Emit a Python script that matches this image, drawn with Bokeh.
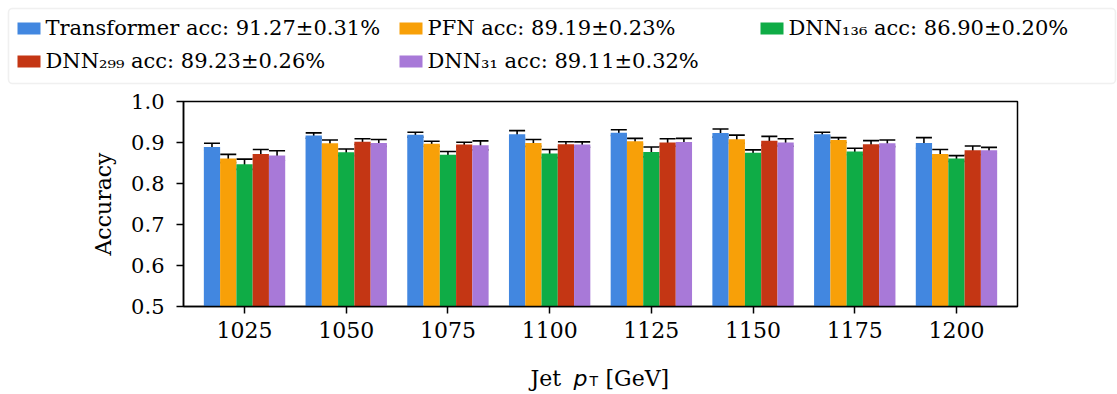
from bokeh.plotting import figure
from bokeh.layouts import column
from bokeh.models import (ColumnDataSource, FactorRange, Range1d, FixedTicker,
                          PrintfTickFormatter, Whisker, TeeHead, BoxAnnotation)
from bokeh.transform import dodge
from bokeh.core.properties import value
from bokeh.embed import file_html
from bokeh.resources import INLINE

# ---------------- data ----------------
pt_labels = ["1025", "1050", "1075", "1100", "1125", "1150", "1175", "1200"]

model_keys = ["transformer", "pfn", "dnn136", "dnn299", "dnn31"]
model_names = ["Transformer", "PFN", "DNN₁₃₆", "DNN₂₉₉", "DNN₃₁"]
overall_acc = [91.27, 89.19, 86.90, 89.23, 89.11]
overall_err = [0.31, 0.23, 0.20, 0.26, 0.32]
colors = ["#4287e0", "#f8a008", "#0fac46", "#c43614", "#a879d8"]

acc_transformer = [0.889, 0.917, 0.919, 0.920, 0.924, 0.923, 0.920, 0.899]
err_transformer = [0.009, 0.0065, 0.006, 0.009, 0.007, 0.010, 0.005, 0.013]
acc_pfn = [0.861, 0.898, 0.897, 0.899, 0.903, 0.908, 0.906, 0.872]
err_pfn = [0.010, 0.008, 0.006, 0.0085, 0.007, 0.010, 0.006, 0.011]
acc_dnn136 = [0.847, 0.876, 0.870, 0.873, 0.877, 0.875, 0.878, 0.861]
err_dnn136 = [0.0125, 0.008, 0.008, 0.010, 0.012, 0.007, 0.008, 0.007]
acc_dnn299 = [0.872, 0.902, 0.895, 0.896, 0.900, 0.904, 0.896, 0.881]
err_dnn299 = [0.011, 0.007, 0.0055, 0.006, 0.009, 0.011, 0.0085, 0.0105]
acc_dnn31 = [0.868, 0.899, 0.893, 0.895, 0.901, 0.900, 0.898, 0.881]
err_dnn31 = [0.012, 0.0085, 0.011, 0.0065, 0.009, 0.009, 0.008, 0.007]

accs = [acc_transformer, acc_pfn, acc_dnn136, acc_dnn299, acc_dnn31]
errs = [err_transformer, err_pfn, err_dnn136, err_dnn299, err_dnn31]

y_ticks = [0.5, 0.6, 0.7, 0.8, 0.9, 1.0]
x_label_parts = ["Jet", "p", "T", "[GeV]"]

# ---------------- styles ----------------
SERIF = "DejaVu Serif"
BAR_W = 0.16
offsets = [-0.32, -0.16, 0.0, 0.16, 0.32]
TEXT_SHIFT = -9   # baseline correction for text glyphs

data = {"pt": pt_labels}
for k, a, e in zip(model_keys, accs, errs):
    data[k] = a
    data[k + "_up"] = [v + d for v, d in zip(a, e)]
    data[k + "_lo"] = [v - d for v, d in zip(a, e)]
src = ColumnDataSource(data)

# ---------------- legend strip (top) ----------------
LG_H = 85
lg = figure(width=1117, height=LG_H, title=None, x_range=Range1d(0, 1117), y_range=Range1d(LG_H, 0),
            x_axis_type=None, y_axis_type=None, frame_align=False,
            output_backend="svg", toolbar_location=None, min_border=0)
lg.outline_line_color = None
lg.xgrid.visible = False
lg.ygrid.visible = False
lg.add_layout(BoxAnnotation(left=8, right=1115, top=8, bottom=83, fill_color="white",
                            fill_alpha=1.0, line_color="#cccccc", line_width=1.6,
                            border_radius=4, level="underlay"))

col_x = [17, 399, 760]
row_y = [28, 61]
sw_l, sw_r, sw_t, sw_b, tx, ty, labels = [], [], [], [], [], [], []
for i, (n, a, e) in enumerate(zip(model_names, overall_acc, overall_err)):
    cx = col_x[i % 3]
    cy = row_y[i // 3]
    sw_l.append(cx)
    sw_r.append(cx + 23)
    sw_t.append(cy - 6)
    sw_b.append(cy + 6)
    tx.append(cx + 28)
    ty.append(cy + 8 + TEXT_SHIFT)
    labels.append(f"{n} acc: {a:.2f}±{e:.2f}%")

lg.quad(left=sw_l, right=sw_r, top=sw_t, bottom=sw_b, fill_color=colors, line_color=None)
lg.text(x=tx, y=ty, text=labels, text_font=value(SERIF), text_font_size="21px",
        text_baseline="alphabetic", text_align="left", text_color="black")

# ---------------- main figure ----------------
MAIN_H = 273
p = figure(width=1117, height=MAIN_H, title=None,
           x_range=FactorRange(*pt_labels, range_padding=0.025, range_padding_units="percent"),
           y_range=Range1d(0.5, 1.0),
           output_backend="svg", toolbar_location=None,
           min_border_left=183, min_border_right=100,
           min_border_top=16, min_border_bottom=52)

for k, off, c in zip(model_keys, offsets, colors):
    p.vbar(x=dodge("pt", off, range=p.x_range), top=k, width=BAR_W,
           source=src, fill_color=c, line_color=None)

for k, off in zip(model_keys, offsets):
    w = Whisker(base=dodge("pt", off, range=p.x_range), upper=k + "_up", lower=k + "_lo",
                source=src, line_color="black", line_width=1.6,
                upper_head=TeeHead(size=16, line_color="black", line_width=1.6),
                lower_head=TeeHead(size=16, line_color="black", line_width=1.6))
    p.add_layout(w)

p.xgrid.visible = False
p.ygrid.visible = False
p.outline_line_color = "black"
p.outline_line_width = 1.5

for ax in (p.xaxis[0], p.yaxis[0]):
    ax.axis_line_color = "black"
    ax.axis_line_width = 1.5
    ax.major_tick_line_color = "black"
    ax.major_tick_line_width = 1.5
    ax.major_tick_out = 7
    ax.major_tick_in = 0
    ax.minor_tick_line_color = None
    ax.major_label_text_font = SERIF
    ax.major_label_text_color = "black"

p.xaxis.major_label_text_font_size = "22px"
p.yaxis.major_label_text_font_size = "21px"
p.xaxis.major_label_standoff = 8
p.yaxis.major_label_standoff = 12
p.yaxis.ticker = FixedTicker(ticks=y_ticks)
p.yaxis.formatter = PrintfTickFormatter(format="%.1f")
p.yaxis.axis_label = "Accuracy"
p.yaxis.axis_label_text_font = SERIF
p.yaxis.axis_label_text_font_size = "22px"
p.yaxis.axis_label_text_font_style = "normal"
p.yaxis.axis_label_text_color = "black"
p.yaxis.axis_label_standoff = 12

# ---------------- x-axis label strip (bottom) ----------------
XL_H = 394 - LG_H - MAIN_H
xl = figure(width=1117, height=XL_H, title=None, x_range=Range1d(0, 1117), y_range=Range1d(XL_H, 0),
            x_axis_type=None, y_axis_type=None, frame_align=False,
            output_backend="svg", toolbar_location=None, min_border=0)
xl.outline_line_color = None
xl.xgrid.visible = False
xl.ygrid.visible = False
base_y = 387 - (LG_H + MAIN_H) + TEXT_SHIFT
xl.text(x=[530], y=[base_y], text=[x_label_parts[0]], text_font=value(SERIF), text_font_size="22px",
        text_baseline="alphabetic", text_color="black")
xl.text(x=[573], y=[base_y], text=[x_label_parts[1]], text_font=value("DejaVu Sans"),
        text_font_style="italic", text_font_size="22px",
        text_baseline="alphabetic", text_color="black")
xl.text(x=[589], y=[base_y + 2], text=[x_label_parts[2]], text_font=value("DejaVu Sans"),
        text_font_size="14px", text_baseline="alphabetic", text_color="black")
xl.text(x=[605], y=[base_y], text=[x_label_parts[3]], text_font=value(SERIF), text_font_size="22px",
        text_baseline="alphabetic", text_color="black")

layout = column(lg, p, xl, spacing=0)

with open("out.html", "w") as f:
    f.write(file_html(layout, INLINE))
